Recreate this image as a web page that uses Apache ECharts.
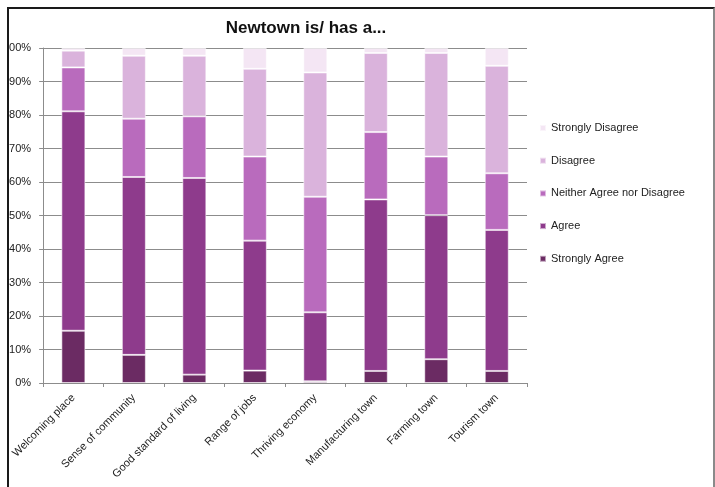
<!DOCTYPE html>
<html>
<head>
<meta charset="utf-8">
<script src="https://cdn.jsdelivr.net/npm/echarts@6/dist/echarts.min.js"></script>
<style>
  html, body { margin: 0; padding: 0; background: #fff; }
  #frame {
    position: absolute; left: 7px; top: 7px; width: 704px; height: 480px;
    overflow: hidden; border-left: 2px solid #1a1a1a; border-top: 2px solid #1a1a1a; border-right: 2px solid #8a8a8a;
  }
  #chart { position: absolute; left: -9px; top: -9px; width: 715px; height: 487px; }
</style>
</head>
<body>
<div id="frame"><div id="chart"></div></div>
<script>
const categories = ['Welcoming place', 'Sense of community', 'Good standard of living', 'Range of jobs',
  'Thriving economy', 'Manufacturing town', 'Farming town', 'Tourism town']
const stronglyAgree = [15.6, 8.4, 2.5, 3.7, 0.5, 3.6, 7.1, 3.6]
const agree = [65.5, 53.1, 58.7, 38.8, 20.6, 51.2, 43.0, 42.1]
const neither = [13.1, 17.4, 18.4, 25.1, 34.5, 20.1, 17.5, 16.9]
const disagree = [5.0, 18.8, 18.1, 26.2, 37.1, 23.6, 30.9, 32.1]
const stronglyDisagree = [0.8, 2.3, 2.3, 6.2, 7.3, 1.5, 1.5, 5.3]
const yTicks = [0, 10, 20, 30, 40, 50, 60, 70, 80, 90, 100]

const seriesDefs = [
  { name: 'Strongly Agree', data: stronglyAgree, color: '#6b2b63' },
  { name: 'Agree', data: agree, color: '#8e3b8c' },
  { name: 'Neither Agree nor Disagree', data: neither, color: '#b96bbd' },
  { name: 'Disagree', data: disagree, color: '#dab3dc' },
  { name: 'Strongly Disagree', data: stronglyDisagree, color: '#f4e6f4' },
]

const chart = echarts.init(document.getElementById('chart'))

const option = {
  animation: false,
  textStyle: { fontFamily: 'Liberation Sans, Arial, sans-serif' },
  title: {
    text: 'Newtown is/ has a...',
    left: 301,
    top: 15,
    textAlign: 'center',
    textStyle: { fontSize: 17, fontWeight: 'bold', color: '#111' },
  },
  legend: {
    orient: 'vertical',
    left: 534,
    top: 116,
    itemWidth: 6,
    itemHeight: 6,
    itemGap: 18.7,
    icon: 'rect',
    data: seriesDefs.map((s) => s.name).reverse(),
    textStyle: { fontSize: 11, color: '#222', lineHeight: 14 },
  },
  grid: { left: 38, right: 188, top: 48, bottom: 104, containLabel: false },
  xAxis: {
    type: 'category',
    data: categories,
    axisLine: { lineStyle: { color: '#8c8c8c', width: 1 } },
    axisTick: { show: true, length: 4, lineStyle: { color: '#8c8c8c' } },
    axisLabel: { rotate: 45, fontSize: 11, color: '#222', margin: 13, interval: 0 },
  },
  yAxis: {
    type: 'value',
    min: yTicks[0],
    max: yTicks[yTicks.length - 1],
    interval: 10,
    axisLine: { show: true, lineStyle: { color: '#8c8c8c', width: 1 } },
    axisTick: { show: true, length: 4, lineStyle: { color: '#8c8c8c' } },
    axisLabel: { fontSize: 11, color: '#222', margin: 12, formatter: '{value}%' },
    splitLine: { lineStyle: { color: '#8c8c8c', width: 1 } },
  },
  series: seriesDefs.map((s) => ({
    name: s.name,
    type: 'bar',
    stack: 'total',
    barWidth: 24,
    data: s.data,
    itemStyle: { color: s.color, borderColor: 'rgba(255,255,255,0.55)', borderWidth: 1 },
  })),
}

chart.setOption(option)
</script>
</body>
</html>
